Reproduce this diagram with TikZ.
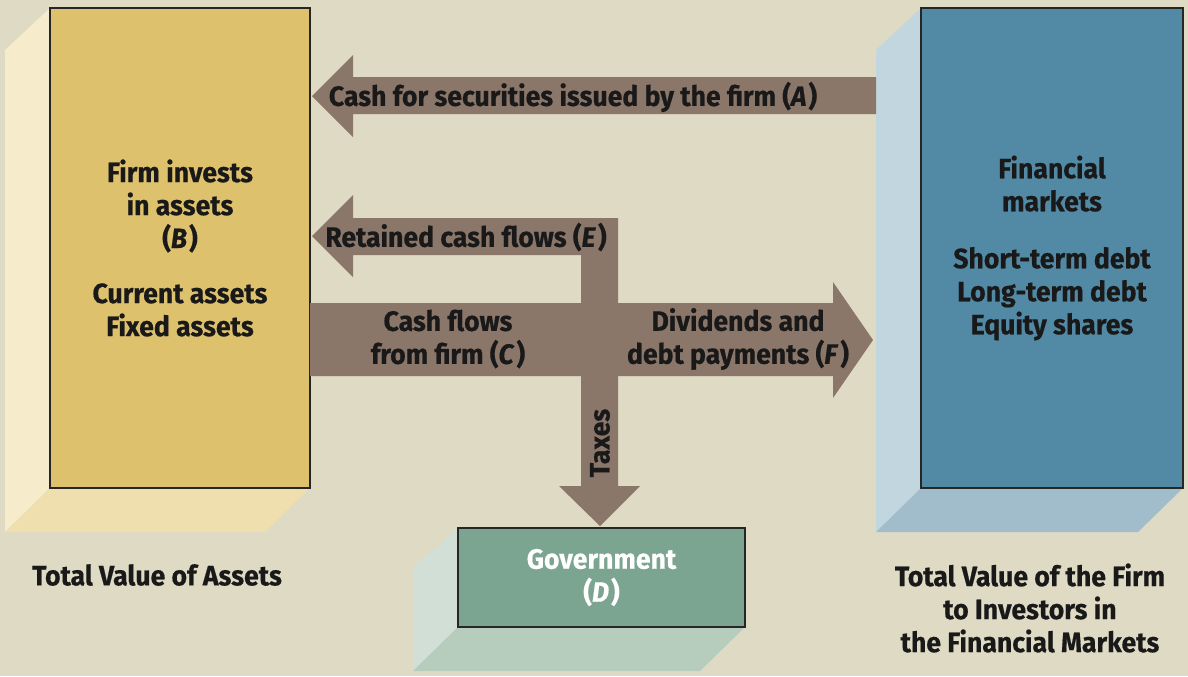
\documentclass[tikz,border=0pt]{standalone}
\usepackage{fontspec}
\setmainfont{Fira Sans}[FakeStretch=0.95,BoldFeatures={FakeBold=0.5},BoldItalicFeatures={FakeBold=0.5}]
\usetikzlibrary{calc,backgrounds}

\definecolor{bgcol}{HTML}{DEDAC4}
\definecolor{flowbrown}{HTML}{8B766A}
\definecolor{assetfront}{HTML}{DEC16D}
\definecolor{assetside}{HTML}{F6EBCB}
\definecolor{assetbottom}{HTML}{EFDFAE}
\definecolor{marketfront}{HTML}{528AA5}
\definecolor{marketside}{HTML}{C1D6DE}
\definecolor{marketbottom}{HTML}{A1BDCB}
\definecolor{govfront}{HTML}{7BA491}
\definecolor{govside}{HTML}{D2DFD6}
\definecolor{govbottom}{HTML}{B6CCBD}

\begin{document}
\begin{tikzpicture}[x=0.5pt,y=-0.5pt,
    every node/.style={font=\bfseries\fontsize{14}{16.5}\selectfont,align=center,text=black!90},
    front/.style={draw=black!85,line width=0.6pt,inner sep=0pt,outer sep=0pt,rectangle}]
    % boxes
    \node (assets) [front,fill=assetfront,minimum width=130pt,minimum height=240pt] at (180,248)
        {Firm invests\\in assets\\(\textit{B}\kern1pt)\\[11pt]Current assets\\Fixed assets};
    \node (markets) [front,fill=marketfront,minimum width=131pt,minimum height=240pt] at (1052,248)
        {Financial\\markets\\[12pt]Short-term debt\\Long-term debt\\Equity shares};
    \node (gov) [front,fill=govfront,minimum width=143.5pt,minimum height=49.5pt,text=white] at (601.5,577.5)
        {Government\\(\textit{D}\kern1pt)};
    \begin{scope}[on background layer]
        \fill[bgcol] (0,0) rectangle (1188,676);
        % depth faces
        \fill[assetside] (assets.north west) -- (assets.south west) -- ++(-45,44) -- ($(assets.north west)+(-45,42)$) -- cycle;
        \fill[assetbottom] (assets.south west) -- (assets.south east) -- ++(-45,44) -- ($(assets.south west)+(-45,44)$) -- cycle;
        \fill[marketside] (markets.north west) -- (markets.south west) -- ++(-45,44) -- ($(markets.north west)+(-45,42)$) -- cycle;
        \fill[marketbottom] (markets.south west) -- (markets.south east) -- ++(-45,44) -- ($(markets.south west)+(-45,44)$) -- cycle;
        \fill[govside] (gov.north west) -- (gov.south west) -- ++(-45,44) -- ($(gov.north west)+(-45,39)$) -- cycle;
        \fill[govbottom] (gov.south west) -- (gov.south east) -- ++(-45,44) -- ($(gov.south west)+(-45,44)$) -- cycle;
    \end{scope}
    % flows
    \fill[flowbrown] (876,77) -- (353,77) -- (353,55) -- (312,96) -- (353,137) -- (353,114) -- (876,114) -- cycle;
    \fill[flowbrown] (310,303) -- (581,303) -- (581,255) -- (353,255) -- (353,277) -- (312,236)
        -- (353,195) -- (353,218) -- (618,218) -- (618,303) -- (833,303) -- (833,282) -- (873,340)
        -- (833,398) -- (833,376) -- (618,376) -- (618,486) -- (640,486) -- (600,526) -- (559,486)
        -- (581,486) -- (581,376) -- (310,376) -- cycle;
    \node (lblA) at (573,97) {Cash for securities issued by the firm (\textit{A}\kern1pt)};
    \node (lblE) at (466,237) {Retained cash flows (\textit{E}\kern1pt)};
    \node (lblC) at (448,339) {Cash flows\\from firm (\textit{C}\kern1pt)};
    \node (lblF) at (738,339) {Dividends and\\debt payments (\textit{F}\kern1pt)};
    \node (lblT) [rotate=90] at (600,443) {Taxes};
    % captions
    \node (assetcap) at (157,575) {Total Value of Assets};
    \node (firmcap) at (1030,608) {Total Value of the Firm\\to Investors in\\the Financial Markets};
\end{tikzpicture}
\end{document}
